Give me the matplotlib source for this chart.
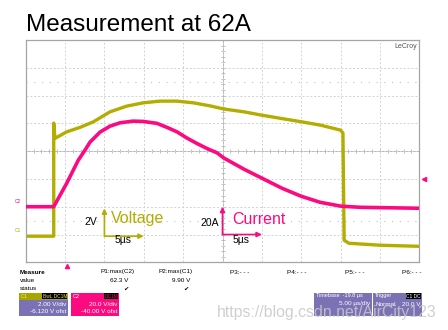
import numpy as np
import matplotlib.pyplot as plt
from matplotlib.patches import Rectangle
from matplotlib.transforms import blended_transform_factory

plt.rcParams['font.family'] = ['Liberation Sans', 'DejaVu Sans']

# scope settings
t_div = 5.0            # us/div
v_div, v_ofs = 2.0, 6.12      # C1: 2.00 V/div, -6.120 V ofst
i_div, i_ofs = 20.0, 40.0     # C2: 20.0 V/div, -40.00 V ofst
trig_t = 5.2           # trigger position (us from left edge)
trig_i = 20.0

# C1 voltage trace (us, V)
v_t = [0.0, 3.56, 3.56, 3.72, 5.21, 6.90, 8.59, 10.71, 12.83, 14.94, 17.06, 19.18,
       21.29, 23.41, 25.19, 27.73, 29.98, 32.39, 35.06, 37.47, 40.01,
       40.3, 40.45, 41.06, 45.0, 50.0]
v_val = [0.0, 0.0, 8.14, 7.04, 7.51, 7.83, 8.23, 8.95, 9.36, 9.60, 9.72, 9.72,
         9.60, 9.38, 9.15, 8.95, 8.71, 8.48, 8.23, 7.99, 7.63,
         7.42, -0.29, -0.51, -0.65, -0.73]

# C2 current trace (us, A)
i_t = [0.0, 3.56, 5.21, 6.68, 7.53, 8.17, 9.44, 10.71, 11.98, 13.63, 14.90, 16.68,
       17.95, 19.22, 20.49, 21.76, 23.03, 24.30, 25.19, 27.73, 30.27, 32.56,
       34.97, 37.39, 40.05, 42.47, 50.0]
i_val = [0.0, 0.0, 16.9, 33.5, 40.7, 46.5, 53.7, 58.0, 60.4, 61.6, 61.4, 60.0,
         57.1, 53.9, 49.4, 45.5, 41.9, 38.8, 35.0, 27.0, 19.8, 13.3,
         7.6, 3.2, 0.4, -0.4, -1.1]

yellow = '#b3ad00'
pink = '#fc0a80'
purple = '#7b72b6'

fig = plt.figure(figsize=(4.48, 3.30), dpi=100)
W, H = 448, 330
pos = [25.7 / W, 1 - 262.3 / H, 393.6 / W, 222.3 / H]


def fx(x, y):
    return x / W, 1 - y / H


# center cross with minor ticks (division units)
axc = fig.add_axes(pos)
axc.set_xlim(0, 10)
axc.set_ylim(-4, 4)
axc.patch.set_visible(False)
for s in ['top', 'right']:
    axc.spines[s].set_visible(False)
for s in ['left', 'bottom']:
    axc.spines[s].set_position(('axes', 0.5))
    axc.spines[s].set_color('#b5b5b5')
    axc.spines[s].set_linewidth(0.7)
axc.set_xticks([])
axc.set_yticks([])
axc.set_xticks(np.arange(0, 10.01, 0.2), minor=True)
axc.set_yticks(np.arange(-4, 4.01, 0.2), minor=True)
axc.tick_params(which='minor', direction='inout', length=2.5, color='#b5b5b5',
                labelbottom=False, labelleft=False)
for lvl in [-2.5, 2.5]:
    axc.axhline(lvl, color='#c0c0c0', lw=0.8, ls=(0, (1, 6)))

# voltage axes
ax = fig.add_axes(pos)
ax.set_zorder(1)
ax.patch.set_visible(False)
ax.set_xlim(0, 10 * t_div)
ax.set_ylim(v_ofs - 4 * v_div, v_ofs + 4 * v_div)
ax.set_xticks(np.arange(0, 10 * t_div + 0.1, t_div))
ax.set_yticks(v_ofs + v_div * np.arange(-4, 5))
ax.grid(True, color='#d2d2d2', ls=(0, (2, 2)), lw=0.7)
ax.tick_params(length=0, labelleft=False, labelbottom=False)
for s in ax.spines.values():
    s.set_color('#a5a5a5')
    s.set_linewidth(0.9)
ax.plot(v_t, v_val, color=yellow, lw=2.4, solid_joinstyle='round')

# current axes
ax2 = ax.twinx()
ax2.set_ylim(i_ofs - 4 * i_div, i_ofs + 4 * i_div)
ax2.set_yticks([])
for s in ax2.spines.values():
    s.set_visible(False)
ax2.plot(i_t, i_val, color=pink, lw=2.6, solid_joinstyle='round')

# scale arrows
arw = dict(arrowstyle='-|>', lw=1.2, mutation_scale=7, shrinkA=0, shrinkB=0)
ax.annotate('', xy=(10, v_div), xytext=(10, 0), arrowprops=dict(color=yellow, **arw))
ax.annotate('', xy=(10 + t_div, 0), xytext=(10, 0), arrowprops=dict(color=yellow, **arw))
ax.text(9.1, 1.0, '2V', ha='right', va='center', fontsize=7.5)
ax.text(10.8, 1.25, 'Voltage', ha='left', va='center', fontsize=11.5, color=yellow)
ax.text(12.4, -0.3, '5µs', ha='center', va='center', fontsize=7.5)

ax2.annotate('', xy=(25, -20 + i_div), xytext=(25, -20), arrowprops=dict(color=pink, **arw))
ax2.annotate('', xy=(25 + t_div, -20), xytext=(25, -20), arrowprops=dict(color=pink, **arw))
ax2.text(24.5, -12, '20A', ha='right', va='center', fontsize=7.5)
ax2.text(26.2, -9.5, 'Current', ha='left', va='center', fontsize=11.5, color=pink)
ax2.text(27.4, -24, '5µs', ha='center', va='center', fontsize=7.5)

# channel / trigger markers
tr_l = blended_transform_factory(ax.transAxes, ax.transData)
ax.text(-0.012, 0.25, 'C1', transform=tr_l, ha='right', va='bottom', fontsize=3.5,
        color=yellow, clip_on=False)
tr_l2 = blended_transform_factory(ax2.transAxes, ax2.transData)
ax2.text(-0.012, 2.0, 'C2', transform=tr_l2, ha='right', va='bottom', fontsize=3.5,
         color=pink, clip_on=False)
ax2.plot([1.012], [trig_i], marker='<', ms=3, color=pink, transform=tr_l2, clip_on=False)
tr_b = blended_transform_factory(ax.transData, ax.transAxes)
ax.plot([trig_t], [-0.016], marker='^', ms=3, color=pink, transform=tr_b, clip_on=False)
ax.text(0.995, 0.985, 'LeCroy', transform=ax.transAxes, ha='right', va='top',
        fontsize=5, color='#555555')

# title
fig.text(*fx(26, 25), 'Measurement at 62A', fontsize=17.5, ha='left', va='center')

# measure table
fs = 4.6
fig.text(*fx(20, 272), 'Measure', fontsize=fs, weight='bold', va='center')
fig.text(*fx(20, 280), 'value', fontsize=fs, va='center')
fig.text(*fx(20, 288), 'status', fontsize=fs, va='center')
fig.text(*fx(100, 272), 'P1:max(C2)', fontsize=fs, va='center')
fig.text(*fx(128, 280), '62.3 V', fontsize=fs, va='center', ha='right')
fig.text(*fx(126, 289), '✔', fontsize=fs, va='center', ha='center')
fig.text(*fx(158, 272), 'P2:max(C1)', fontsize=fs, va='center')
fig.text(*fx(190, 280), '9.90 V', fontsize=fs, va='center', ha='right')
fig.text(*fx(186, 289), '✔', fontsize=fs, va='center', ha='center')
for lab, x in [('P3:- - -', 230), ('P4:- - -', 287), ('P5:- - -', 345), ('P6:- - -', 402)]:
    fig.text(*fx(x, 273), lab, fontsize=fs, va='center')


def box(x0, x1, y0, y1, color):
    fig.add_artist(Rectangle(fx(x0, y1), (x1 - x0) / W, (y1 - y0) / H,
                             transform=fig.transFigure, color=color, lw=0))


box(19, 68, 293, 316, purple)
box(19, 68, 293, 299.5, '#a8a400')
fig.text(*fx(21, 296), 'C1', fontsize=4, va='center', color='#f2f060')
fig.text(*fx(67, 296), 'BwL DC1M', fontsize=3.5, va='center', ha='right', color='#e8e060',
         bbox=dict(boxstyle='square,pad=0.1', fc='black', lw=0))
fig.text(*fx(66, 304), '2.00 V/div', fontsize=fs, va='center', ha='right', color='white')
fig.text(*fx(66, 311.5), '-6.120 V ofst', fontsize=fs, va='center', ha='right', color='white')

box(71, 119, 293, 316, pink)
fig.text(*fx(73, 296), 'C2', fontsize=4, va='center', color='white')
fig.text(*fx(118, 296), 'DC1M', fontsize=3.5, va='center', ha='right', color=pink,
         bbox=dict(boxstyle='square,pad=0.1', fc='black', lw=0))
fig.text(*fx(117, 304), '20.0 V/div', fontsize=fs, va='center', ha='right', color='white')
fig.text(*fx(117, 311.5), '-40.00 V ofst', fontsize=fs, va='center', ha='right', color='white')

box(314, 372, 293, 316, purple)
fig.text(*fx(316, 296), 'Timebase  -19.8 µs', fontsize=4, va='center', color='white')
fig.text(*fx(370, 304), '5.00 µs/div', fontsize=fs, va='center', ha='right', color='white')
box(373, 422, 293, 316, purple)
fig.text(*fx(375, 296), 'Trigger', fontsize=4, va='center', color='white')
fig.text(*fx(421, 296), 'C1 DC', fontsize=3.5, va='center', ha='right', color='white',
         bbox=dict(boxstyle='square,pad=0.1', fc='black', lw=0))
fig.text(*fx(375, 304), 'Normal', fontsize=fs, va='center', color='white')
fig.text(*fx(420, 304), '20.0 V', fontsize=fs, va='center', ha='right', color='white')

# watermark
fig.text(*fx(217, 313), 'https://blog.csdn.net/AirCity123', fontsize=11.4, va='center',
         color='#c8c8c8', alpha=0.85)

fig.savefig('out.png', dpi=100)
